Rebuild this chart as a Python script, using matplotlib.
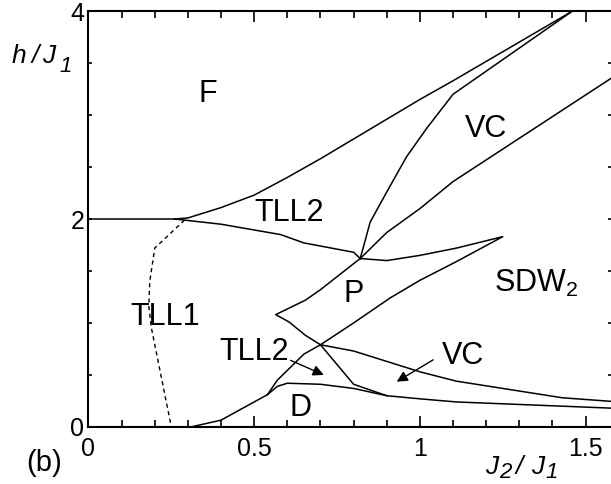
import matplotlib
matplotlib.use("Agg")
import matplotlib.pyplot as plt
from matplotlib.ticker import MultipleLocator

plt.rcParams['font.family'] = ['Liberation Sans', 'DejaVu Sans']
plt.rcParams['mathtext.fontset'] = 'custom'
plt.rcParams['mathtext.rm'] = 'Liberation Sans'
plt.rcParams['mathtext.it'] = 'Liberation Sans:italic'

# phase boundaries (J2/J1, h/J1)
f_x = [0, 0.26, 0.30, 0.40, 0.50, 0.60, 0.70, 0.80, 0.90, 1.00, 1.10, 1.46]
f_y = [2.0, 2.0, 2.01, 2.11, 2.23, 2.40, 2.58, 2.77, 2.96, 3.15, 3.33, 4.0]

vc_in_x = [0.82, 0.85, 0.90, 0.96, 1.02, 1.10, 1.46]
vc_in_y = [1.62, 1.97, 2.26, 2.60, 2.87, 3.20, 4.0]

sdw_x = [0.82, 0.90, 1.00, 1.10, 1.58]
sdw_y = [1.62, 1.87, 2.10, 2.36, 3.36]

tll2_x = [0.26, 0.40, 0.58, 0.65, 0.80, 0.82]
tll2_y = [2.0, 1.95, 1.85, 1.77, 1.68, 1.62]

p_right_x = [0.82, 0.90, 1.00, 1.11, 1.25, 1.11, 1.00, 0.91, 0.80, 0.70, 0.65, 0.57, 0.54, 0.40, 0.31]
p_right_y = [1.62, 1.60, 1.65, 1.72, 1.83, 1.59, 1.41, 1.24, 1.00, 0.79, 0.70, 0.45, 0.31, 0.065, 0.0]

p_left_x = [0.82, 0.70, 0.655, 0.565, 0.605, 0.655, 0.70, 0.80, 0.90]
p_left_y = [1.62, 1.32, 1.22, 1.08, 1.01, 0.88, 0.79, 0.41, 0.30]

vc_low_x = [0.70, 0.80, 0.90, 1.00, 1.11, 1.43, 1.58]
vc_low_y = [0.79, 0.73, 0.63, 0.53, 0.44, 0.28, 0.245]

d_x = [0.54, 0.57, 0.60, 0.70, 0.80, 0.90, 1.00, 1.11, 1.58]
d_y = [0.31, 0.39, 0.42, 0.41, 0.37, 0.30, 0.27, 0.24, 0.18]

dash_x = [0.29, 0.20, 0.185, 0.182, 0.19, 0.25]
dash_y = [1.99, 1.72, 1.40, 1.16, 0.95, 0.0]

labels = ['F', 'TLL2', 'VC', 'P', 'SDW$_2$', 'TLL1', 'TLL2', 'VC', 'D']
label_x = [0.36, 0.605, 1.20, 0.80, 1.35, 0.23, 0.50, 1.13, 0.64]
label_y = [3.20, 2.06, 2.87, 1.28, 1.38, 1.06, 0.72, 0.68, 0.18]

fig = plt.figure(figsize=(6.11, 4.84), dpi=100)
ax = fig.add_axes([0.1448, 0.118, 0.857, 0.859])

lw = 1.1
for xs, ys in [(f_x, f_y), (vc_in_x, vc_in_y), (sdw_x, sdw_y), (tll2_x, tll2_y),
               (p_right_x, p_right_y), (p_left_x, p_left_y), (vc_low_x, vc_low_y), (d_x, d_y)]:
    ax.plot(xs, ys, color='black', lw=lw)
ax.plot(dash_x, dash_y, color='black', lw=1.0, ls=(0, (3, 2.5)))

for s, x, y in zip(labels, label_x, label_y):
    ax.text(x, y, s, fontsize=22, ha='center', va='center')

arrow = dict(arrowstyle='-|>', color='black', lw=1.0, mutation_scale=16, shrinkA=0, shrinkB=0)
ax.annotate('', xy=(0.71, 0.50), xytext=(0.61, 0.64), arrowprops=arrow)
ax.annotate('', xy=(0.93, 0.435), xytext=(1.04, 0.645), arrowprops=arrow)

ax.set_xlim(0, 1.58)
ax.set_ylim(0, 4)
ax.xaxis.set_major_locator(MultipleLocator(0.5))
ax.xaxis.set_minor_locator(MultipleLocator(0.1))
ax.yaxis.set_major_locator(MultipleLocator(2))
ax.yaxis.set_minor_locator(MultipleLocator(0.5))
ax.xaxis.set_major_formatter(plt.FuncFormatter(lambda v, p: f'{v:g}'))
ax.yaxis.set_major_formatter(plt.FuncFormatter(lambda v, p: f'{v:g}'))
ax.tick_params(axis='x', which='major', direction='in', length=8, width=1.2, top=True, pad=7, labelsize=18)
ax.tick_params(axis='x', which='minor', direction='in', length=5, width=1.2, top=True)
ax.tick_params(axis='y', which='both', direction='in', length=3, width=1.2, right=True, pad=3, labelsize=18)
for sp in ax.spines.values():
    sp.set_linewidth(1.5)

# axis labels built piece by piece: near full-size lowered indices as in the original
W, H = 611.0, 484.0
def piece(s, px, py, size=19):
    fig.text(px / W, 1 - py / H, s, fontsize=size, style='italic', ha='left', va='baseline')

piece('h', 12, 63)
piece('/', 31, 63)
piece('J', 42, 63)
piece('1', 59, 72, 16)

piece('J', 485, 474)
piece('2', 499, 478, 16)
piece('/', 516, 474)
piece('J', 531, 474)
piece('1', 545, 478, 16)

fig.text(0.072, 0.043, '(b)', fontsize=21, ha='center', va='center')

fig.savefig('out.png', dpi=100)
